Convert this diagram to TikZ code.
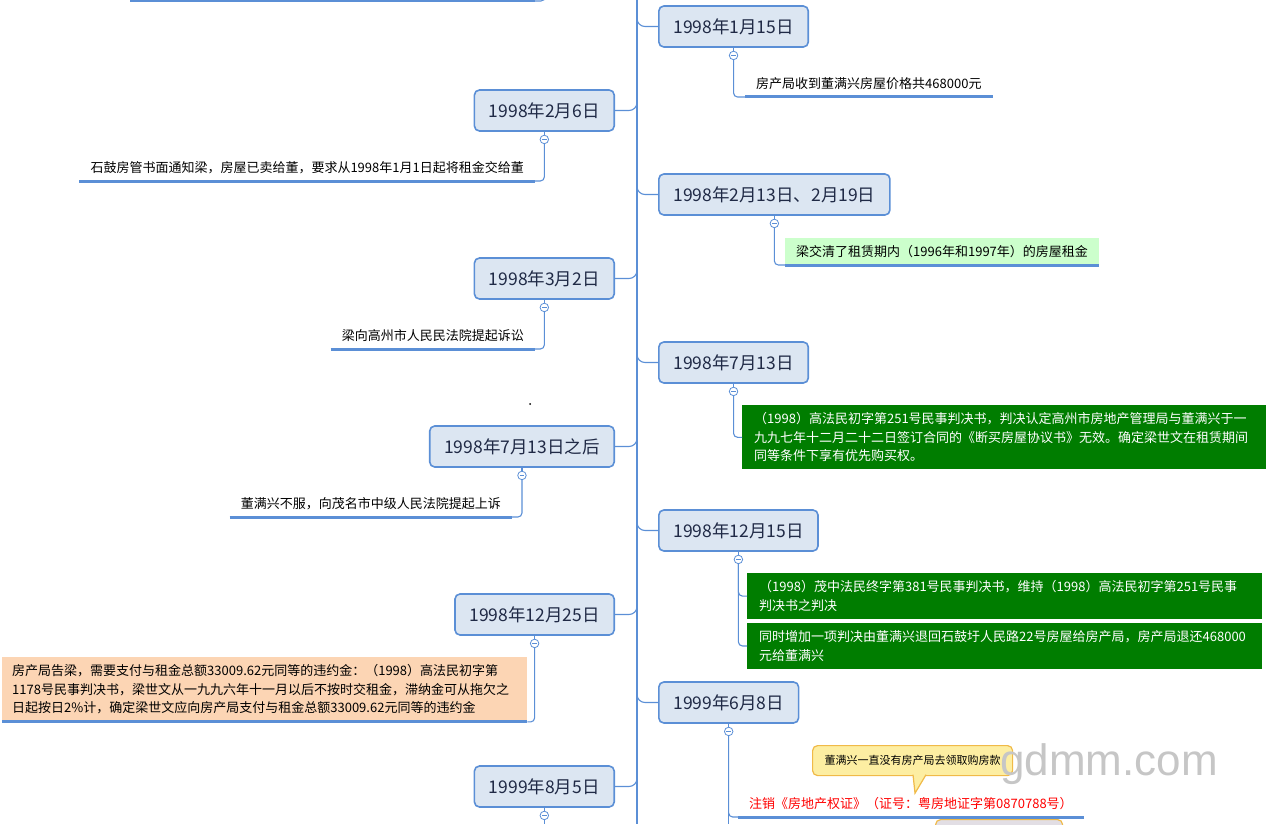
\documentclass[tikz,border=0pt]{standalone}
\usepackage{fontspec}
\setmainfont{Noto Sans CJK SC}
\newfontfamily\wmfont{Liberation Sans}
\usepackage{tikz}
\usetikzlibrary{positioning}
\usetikzlibrary{calc}
\definecolor{lineblue}{RGB}{91,143,214}
\definecolor{datefill}{RGB}{220,230,242}
\definecolor{datetext}{RGB}{32,42,70}
\definecolor{verdictgreen}{RGB}{0,125,0}
\definecolor{paidgreen}{RGB}{204,255,204}
\definecolor{peach}{RGB}{252,213,180}
\definecolor{notefill}{RGB}{253,238,162}
\definecolor{noteedge}{RGB}{240,186,72}
\definecolor{notegray}{RGB}{226,222,228}

\begin{document}
\begin{tikzpicture}[x=1pt, y=-1pt,
    datebox/.style={draw=lineblue, line width=1.6pt, fill=datefill, rounded corners=5pt, minimum height=41pt, inner xsep=14.5pt, text=datetext, font=\fontsize{17.5}{20}\selectfont},
    leaf/.style={minimum height=26pt, inner xsep=11pt, inner ysep=0pt, font=\fontsize{13}{18.5}\selectfont},
    block/.style={align=left, inner xsep=12pt, inner ysep=7.5pt, font=\fontsize{13}{18.5}\selectfont},
    verdict/.style={block, fill=verdictgreen, text=white},
    ruling/.style={draw=lineblue, line width=3pt},
    link/.style={draw=lineblue, line width=1.1pt, rounded corners=4pt},
    branch/.style={draw=lineblue, line width=1.1pt, rounded corners=8pt},
    toggle/.style={circle, draw=lineblue, line width=0.8pt, fill=white, minimum size=8.5pt, inner sep=0pt,
        path picture={\draw[lineblue, line width=0.8pt] ([xshift=2pt]path picture bounding box.west) -- ([xshift=-2pt]path picture bounding box.east);}},
    note/.style={draw=noteedge, line width=1.2pt, fill=notefill, rounded corners=5pt, minimum height=30pt, inner xsep=12pt, font=\fontsize{11}{13}\selectfont}
]
    \useasboundingbox (0,0) rectangle (1268,824);

    \coordinate (trunktop) at (637,0);
    \coordinate (trunkbot) at (637,824);
    \draw[link] (trunktop) -- (trunkbot);

    % cut-off item above
    \coordinate (prevt) at (545,-8);
    \coordinate (prevw) at (130,1);
    \coordinate (preve) at (535,1);
    \draw[ruling] (prevw) -- (preve);
    \draw[link] (prevt) |- (preve);

    \node[datebox, anchor=west] (jan15) at (658,26.5) {1998年1月15日};
    \node[datebox, anchor=east] (feb06) at (615,110.5) {1998年2月6日};
    \node[datebox, anchor=west] (feb13) at (658,194.5) {1998年2月13日、2月19日};
    \node[datebox, anchor=east] (mar02) at (615,278.5) {1998年3月2日};
    \node[datebox, anchor=west] (jul13) at (658,362.5) {1998年7月13日};
    \node[datebox, anchor=east] (jul13b) at (615,446.5) {1998年7月13日之后};
    \node[datebox, anchor=west] (dec15) at (658,530.5) {1998年12月15日};
    \node[datebox, anchor=east] (dec25) at (615,614.5) {1998年12月25日};
    \node[datebox, anchor=west] (jun08) at (658,702.5) {1999年6月8日};
    \node[datebox, anchor=east] (aug05) at (615,786.5) {1999年8月5日};

    \foreach \d in {jan15,feb13,jul13,dec15,jun08}{
        \draw[branch] (\d.west -| trunktop) ++(0,-10) |- (\d.west);
    }
    \foreach \d in {feb06,mar02,jul13b,dec25,aug05}{
        \draw[branch] (\d.east -| trunktop) ++(0,-10) |- (\d.east);
    }
    \foreach \d in {jan15,feb06,feb13,mar02,jul13,jul13b,dec15,dec25,jun08,aug05}{
        \node[toggle, below=3pt of \d] (\d-t) {};
        \draw[link] (\d) -- (\d-t);
    }

    \node[leaf, anchor=south west] (jan15c) at (745,97) {房产局收到董满兴房屋价格共468000元};
    \draw[ruling] (jan15c.south west) -- (jan15c.south east);
    \draw[link] (jan15-t.south) |- (jan15c.south west);

    \node[leaf, anchor=south east] (feb06c) at (535,181) {石鼓房管书面通知梁，房屋已卖给董，要求从1998年1月1日起将租金交给董};
    \draw[ruling] (feb06c.south west) -- (feb06c.south east);
    \draw[link] (feb06-t.south) |- (feb06c.south east);

    \node[leaf, fill=paidgreen, minimum height=27pt, anchor=south west] (feb13c) at (785,265) {梁交清了租赁期内（1996年和1997年）的房屋租金};
    \draw[ruling] (feb13c.south west) -- (feb13c.south east);
    \draw[link] (feb13-t.south) |- (feb13c.south west);

    \node[leaf, anchor=south east] (mar02c) at (535,349) {梁向高州市人民民法院提起诉讼};
    \draw[ruling] (mar02c.south west) -- (mar02c.south east);
    \draw[link] (mar02-t.south) |- (mar02c.south east);

    \fill (530,404) circle (1pt);

    \node[verdict, text width=500pt, anchor=north west] (jul13c) at (742,405) {（1998）高法民初字第251号民事判决书，判决认定高州市房地产管理局与董满兴于一\\九九七年十二月二十二日签订合同的《断买房屋协议书》无效。确定梁世文在租赁期间\\同等条件下享有优先购买权。};
    \draw[link] (jul13-t.south) |- (jul13c.west);

    \node[leaf, anchor=south east] (jul13bc) at (512,517) {董满兴不服，向茂名市中级人民法院提起上诉};
    \draw[ruling] (jul13bc.south west) -- (jul13bc.south east);
    \draw[link] (jul13b-t.south) |- (jul13bc.south east);

    \node[verdict, text width=491pt, anchor=north west] (dec15a) at (747,573) {（1998）茂中法民终字第381号民事判决书，维持（1998）高法民初字第251号民事\\判决书之判决};
    \node[verdict, text width=491pt, anchor=north west] (dec15b) at (747,623) {同时增加一项判决由董满兴退回石鼓圩人民路22号房屋给房产局，房产局退还468000\\元给董满兴};
    \draw[link] (dec15-t.south) |- (dec15a.west);
    \draw[link] (dec15-t.south) |- (dec15b.west);

    \node[block, fill=peach, inner xsep=10pt, text width=505pt, anchor=north west] (dec25c) at (2,657) {房产局告梁，需要支付与租金总额33009.62元同等的违约金：（1998）高法民初字第\\1178号民事判决书，梁世文从一九九六年十一月以后不按时交租金，滞纳金可从拖欠之\\日起按日2\%计，确定梁世文应向房产局支付与租金总额33009.62元同等的违约金};
    \draw[ruling] (dec25c.south west) -- (dec25c.south east);
    \draw[link] (dec25-t.south) |- (dec25c.south east);

    \node[leaf, text=red, anchor=south west] (jun08c) at (738,817) {注销《房地产权证》（证号：粤房地证字第0870788号）};
    \draw[ruling] (jun08c.south west) -- (jun08c.south east);
    \draw[link] (jun08-t.south) |- (jun08c.south west);
    \draw[link] (jun08-t.south) -- (jun08-t.south |- trunkbot);
    \draw[link] (aug05-t.south) -- (aug05-t.south |- trunkbot);

    \node[note, anchor=north west] (nopay) at (812,745) {董满兴一直没有房产局去领取购房款};
    \draw[fill=notefill, draw=noteedge, line width=1.2pt] ($(nopay.south west)+(101,-1.5)$) -- ($(nopay.south west)+(103,17)$) -- ($(nopay.south west)+(114,-1.5)$);
    \node[note, fill=notegray, minimum width=127pt, anchor=north west] (nextnote) at (935,819) {};

    \node[font=\wmfont\fontsize{44}{44}\selectfont, text=gray!45, anchor=base west, inner sep=0pt] (mark) at (1000,775) {gdmm.com};
\end{tikzpicture}
\end{document}
